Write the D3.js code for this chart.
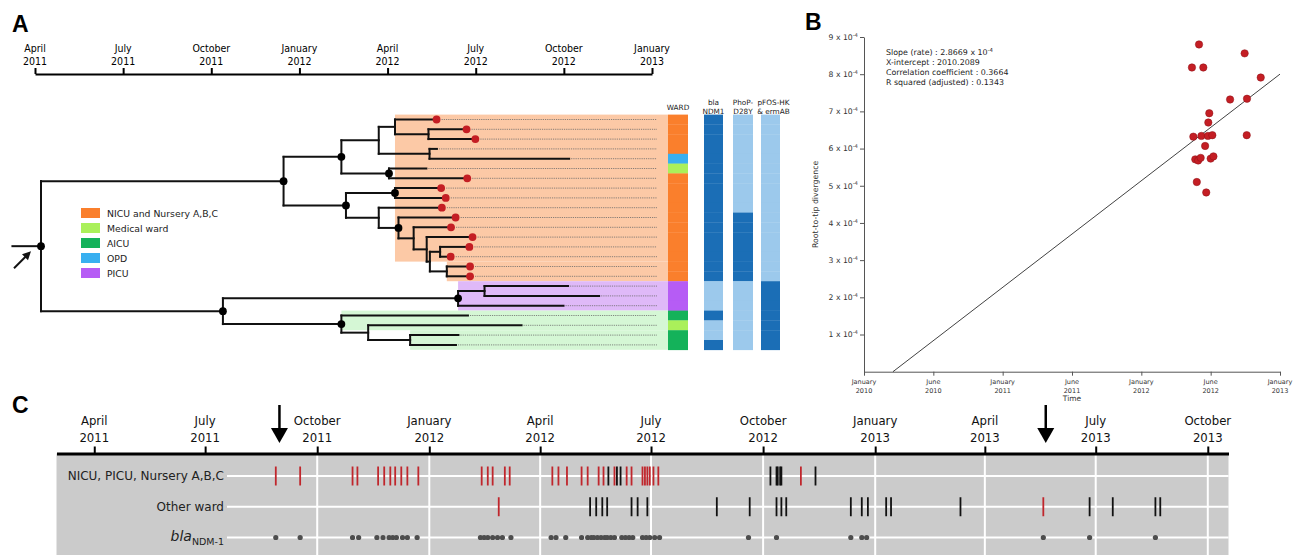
<!DOCTYPE html>
<html><head><meta charset="utf-8">
<script src="https://cdnjs.cloudflare.com/ajax/libs/d3/7.8.5/d3.min.js"></script>
<style>
body{margin:0;background:#fff;}
svg{display:block;font-family:"DejaVu Sans",sans-serif;}
.letter{font-family:"Liberation Sans",Arial,sans-serif;font-weight:bold;font-size:23px;}
.cond{font-family:"DejaVu Sans Condensed","DejaVu Sans",sans-serif;}
</style>
</head><body><svg id="c" width="1302" height="559"></svg>
<script>
// ---------------- DATA ----------------
// Panel A: time axis (decimal years)
const treeAxisTicks = [2011.25, 2011.5, 2011.75, 2012.0, 2012.25, 2012.5, 2012.75, 2013.0];
const treeAxisLabels = [["April","2011"],["July","2011"],["October","2011"],["January","2012"],["April","2012"],["July","2012"],["October","2012"],["January","2013"]];
// Tree topology and internal node dates (decimal years); dot = node marked with black circle
const treeNodes = [
  {id:"R",parent:"",t:2011.267,dot:1},
  {id:"A",parent:"R",t:2011.955,dot:1},
  {id:"A1",parent:"A",t:2012.119,dot:1},
  {id:"A1a",parent:"A1",t:2012.225},
  {id:"A1a1",parent:"A1a",t:2012.271},
  {id:"t0",parent:"A1a1"},
  {id:"N1",parent:"A1a1",t:2012.366},
  {id:"t1",parent:"N1"},{id:"t2",parent:"N1"},
  {id:"A1a2",parent:"A1a",t:2012.369},
  {id:"t3",parent:"A1a2"},{id:"t4",parent:"A1a2"},
  {id:"A1b",parent:"A1",t:2012.254,dot:1},
  {id:"t5",parent:"A1b"},{id:"t6",parent:"A1b"},
  {id:"A2",parent:"A",t:2012.132,dot:1},
  {id:"A2a",parent:"A2",t:2012.271,dot:1},
  {id:"t7",parent:"A2a"},{id:"t8",parent:"A2a"},
  {id:"A2b",parent:"A2",t:2012.225},
  {id:"t9",parent:"A2b"},
  {id:"N2",parent:"A2b",t:2012.281,dot:1},
  {id:"t10",parent:"N2"},
  {id:"N3",parent:"N2",t:2012.324},
  {id:"t11",parent:"N3"},
  {id:"N4",parent:"N3",t:2012.361},
  {id:"t12",parent:"N4"},
  {id:"N5",parent:"N4",t:2012.370},
  {id:"N6",parent:"N5",t:2012.399},
  {id:"t13",parent:"N6"},{id:"t14",parent:"N6"},
  {id:"N7",parent:"N5",t:2012.418},
  {id:"t15",parent:"N7"},{id:"t16",parent:"N7"},
  {id:"B",parent:"R",t:2011.783,dot:1},
  {id:"B1",parent:"B",t:2012.450,dot:1},
  {id:"N8",parent:"B1",t:2012.525},
  {id:"t17",parent:"N8"},{id:"t18",parent:"N8"},
  {id:"t19",parent:"B1"},
  {id:"B2",parent:"B",t:2012.119,dot:1},
  {id:"t20",parent:"B2"},
  {id:"N9",parent:"B2",t:2012.195},
  {id:"t21",parent:"N9"},
  {id:"N10",parent:"N9",t:2012.314},
  {id:"t22",parent:"N10"},{id:"t23",parent:"N10"}
];
const rootStemStart = 2011.186;
const tipTime = [2012.389,2012.474,2012.499,2012.390,2012.765,2012.360,2012.476,2012.402,2012.415,2012.404,2012.443,2012.430,2012.491,2012.482,2012.429,2012.484,2012.484,2012.762,2012.850,2012.749,2012.478,2012.630,2012.451,2012.444];
const tipRed  = [1,1,1,0,0,0,1,1,1,1,1,1,1,1,1,1,1,0,0,0,0,0,0,0];
const tipWard = ["NICU","NICU","NICU","NICU","OPD","Medical","NICU","NICU","NICU","NICU","NICU","NICU","NICU","NICU","NICU","NICU","NICU","PICU","PICU","PICU","AICU","Medical","AICU","AICU"];
const tipBla  = [1,1,1,1,1,1,1,1,1,1,1,1,1,1,1,1,1,0,0,0,1,0,0,1];
const tipPhoP = [0,0,0,0,0,0,0,0,0,0,1,1,1,1,1,1,1,0,0,0,0,0,0,0];
const tipPfos = [0,0,0,0,0,0,0,0,0,0,0,0,0,0,0,0,0,1,1,1,1,1,1,1];
const highlights = [
  {from:0,to:14,start:2012.271,color:"#fcc9a6"},
  {from:15,to:16,start:2012.418,color:"#fcc9a6"},
  {from:17,to:19,start:2012.450,color:"#dfb9f8"},
  {from:20,to:21,start:2012.119,color:"#d5f7d5"},
  {from:22,to:23,start:2012.314,color:"#d5f7d5"}
];
const wardKeys   = ["NICU","Medical","AICU","OPD","PICU"];
const wardNames  = ["NICU and Nursery A,B,C","Medical ward","AICU","OPD","PICU"];
const wardColors = ["#fa7f2c","#aaf05a","#14b25a","#38aff0","#b65cf5"];
const columnLabels = [["WARD"],["bla","NDM1"],["PhoP-","D28Y"],["pFOS-HK","& ermAB"]];

// Panel B: root-to-tip regression
const rttYear = [2012.416,2012.745,2012.365,2012.447,2012.861,2012.640,2012.762,2012.490,2012.483,2012.375,2012.433,2012.480,2012.512,2012.760,2012.460,2012.389,2012.410,2012.428,2012.500,2012.520,2012.400,2012.468];
const rttDiv  = [8.80,8.56,8.18,8.18,7.91,7.32,7.34,6.95,6.70,6.32,6.34,6.34,6.36,6.36,6.07,5.71,5.68,5.75,5.73,5.79,5.10,4.82].map(v=>v*1e-4);
const rttSlope = 2.8669e-4, rttXIntercept = 2010.2089;
const rttStats = ["Slope (rate) :  2.8669 x 10|-4","X-intercept : 2010.2089","Correlation coefficient : 0.3664","R squared (adjusted) : 0.1343"];
const bXTicks = [2010,2010.5,2011,2011.5,2012,2012.5,2013];
const bXLabels = [["January","2010"],["June","2010"],["January","2011"],["June","2011"],["January","2012"],["June","2012"],["January","2013"]];
const bYTicks = [1,2,3,4,5,6,7,8,9].map(v=>v*1e-4);

// Panel C: isolation timeline
const cRows = ["nicu","other","bla"];
const nicuRed = ["2011-08-28","2011-09-17","2011-10-30","2011-11-03","2011-11-20","2011-11-25","2011-11-30","2011-12-04","2011-12-09","2011-12-14","2011-12-23","2012-02-13","2012-02-18","2012-02-22","2012-03-03","2012-03-07","2012-04-11","2012-04-16","2012-04-23","2012-05-05","2012-05-10","2012-05-19","2012-05-23","2012-06-01","2012-06-11","2012-06-15","2012-06-24","2012-06-26","2012-06-28","2012-06-30","2012-07-03","2012-07-07","2012-11-01"];
const nicuBlack = ["2012-05-27","2012-06-03","2012-06-06","2012-10-07","2012-10-12","2012-10-13","2012-10-15","2012-10-16","2012-11-13"];
const otherRed = ["2012-02-27","2013-05-19"];
const otherBlack = ["2012-05-12","2012-05-17","2012-05-22","2012-05-26","2012-06-15","2012-06-20","2012-06-28","2012-08-24","2012-09-20","2012-10-12","2012-10-16","2012-10-20","2012-12-12","2012-12-21","2012-12-26","2013-01-10","2013-01-14","2013-03-12","2013-06-26","2013-07-15","2013-08-19","2013-08-23"];
const blaDates = ["2011-08-28","2011-09-17","2011-10-30","2011-11-04","2011-11-19","2011-11-24","2011-11-29","2011-12-02","2011-12-05","2011-12-10","2011-12-14","2011-12-22","2012-02-12","2012-02-15","2012-02-18","2012-02-22","2012-02-26","2012-03-01","2012-03-08","2012-04-10","2012-04-14","2012-04-22","2012-05-05","2012-05-10","2012-05-13","2012-05-15","2012-05-18","2012-05-21","2012-05-24","2012-05-26","2012-05-29","2012-06-01","2012-06-07","2012-06-10","2012-06-13","2012-06-16","2012-06-24","2012-06-27","2012-06-30","2012-07-04","2012-07-08","2012-09-19","2012-10-12","2012-12-12","2012-12-21","2012-12-25","2013-05-19","2013-06-26","2013-08-19"];
const arrowDates = ["2011-08-31","2013-05-21"];
const cDomain = ["2011-03-01","2013-10-18"];

// ---------------- DRAW ----------------
const svg = d3.select("#c");
const parse = d3.utcParse("%Y-%m-%d");

// ===== Panel A =====
const xA = d3.scaleLinear().domain([2011.25, 2013]).range([35, 652]);
const yA = d3.scaleLinear().domain([0, 23]).range([119.5, 344.9]);
const rowH = yA(1) - yA(0);
const gA = svg.append("g");
gA.append("text").attr("class","letter").attr("x",12).attr("y",32).text("A");

const axAg = gA.append("g").attr("transform","translate(0,74)")
  .call(d3.axisTop(xA).tickValues(treeAxisTicks).tickSize(6).tickSizeOuter(0).tickFormat(""));
axAg.select(".domain").attr("stroke","#000").attr("stroke-width",2);
axAg.selectAll(".tick line").attr("stroke","#000").attr("stroke-width",2);
const axALab = gA.append("g").attr("class","cond").attr("font-size",10.5).attr("text-anchor","middle");
treeAxisTicks.forEach((t,i)=>{
  axALab.append("text").attr("x",xA(t)).attr("y",52).text(treeAxisLabels[i][0]);
  axALab.append("text").attr("x",xA(t)).attr("y",65).text(treeAxisLabels[i][1]);
});

// highlights
const colX0 = 668;
gA.selectAll("rect.hl").data(highlights).join("rect")
  .attr("x",d=>xA(d.start)).attr("width",d=>colX0-xA(d.start))
  .attr("y",d=>yA(d.from)-rowH/2).attr("height",d=>(d.to-d.from+1)*rowH)
  .attr("fill",d=>d.color);

// tree
const root = d3.stratify().id(d=>d.id).parentId(d=>d.parent||null)(treeNodes);
root.each(n=>{ if(!n.children){ const k=+n.id.slice(1); n.k=k; n.t=tipTime[k]; n.y=yA(k);} else n.t=n.data.t; });
root.eachAfter(n=>{ if(n.children){ n.y=(n.children[0].y+n.children[n.children.length-1].y)/2; }});

// dotted leader lines
const tips = root.leaves();
gA.selectAll("line.lead").data(tips).join("line")
  .attr("x1",d=>xA(d.t)+(tipRed[d.k]?5:2)).attr("x2",657)
  .attr("y1",d=>d.y).attr("y2",d=>d.y)
  .attr("stroke","#6a6a6a").attr("stroke-width",0.8).attr("stroke-dasharray","1.2,1");

const br = gA.append("g").attr("fill","none").attr("stroke","#111").attr("stroke-width",2).attr("stroke-linecap","square");
root.descendants().forEach(n=>{
  if(n.parent) br.append("path").attr("d",`M${xA(n.parent.t)},${n.y}H${xA(n.t)}`);
  if(n.children) br.append("path").attr("d",`M${xA(n.t)},${n.children[0].y}V${n.children[n.children.length-1].y}`);
});
br.append("path").attr("d",`M${xA(rootStemStart)},${root.y}H${xA(root.t)}`);
// arrow pointing at root
const ax0 = xA(root.t);
gA.append("line").attr("x1",ax0-27).attr("y1",root.y+22).attr("x2",ax0-15).attr("y2",root.y+10)
  .attr("stroke","#111").attr("stroke-width",2);
gA.append("path").attr("d",`M${ax0-10},${root.y+5}L${ax0-19},${root.y+8}L${ax0-13},${root.y+14}Z`).attr("fill","#111");

gA.selectAll("circle.nd").data(root.descendants().filter(n=>n.data.dot)).join("circle")
  .attr("cx",d=>xA(d.t)).attr("cy",d=>d.y).attr("r",3.9).attr("fill","#000");
gA.selectAll("circle.rd").data(tips.filter(d=>tipRed[d.k])).join("circle")
  .attr("cx",d=>xA(d.t)).attr("cy",d=>d.y).attr("r",3.9).attr("fill","#c41e24");

// columns
const wardColor = d3.scaleOrdinal().domain(wardKeys).range(wardColors);
const blue = ["#9cc9ec","#1b6eb6"];
const cols = [
  {x:668,w:20,col:i=>wardColor(tipWard[i])},
  {x:704,w:19,col:i=>blue[tipBla[i]]},
  {x:733,w:20,col:i=>blue[tipPhoP[i]]},
  {x:761,w:19,col:i=>blue[tipPfos[i]]}
];
cols.forEach((c,ci)=>{
  gA.selectAll(null).data(d3.range(24)).join("rect")
    .attr("x",c.x).attr("width",c.w).attr("y",i=>yA(i)-rowH/2).attr("height",rowH+0.3)
    .attr("fill",i=>c.col(i));
  const lab = columnLabels[ci];
  const tx = gA.append("text").attr("font-size",7.3).attr("text-anchor","middle").attr("fill","#222");
  if(lab.length===1) tx.append("tspan").attr("x",c.x+c.w/2).attr("y",109.5).text(lab[0]);
  else { tx.append("tspan").attr("x",c.x+c.w/2+(ci===3?3:0)).attr("y",105).text(lab[0]);
         tx.append("tspan").attr("x",c.x+c.w/2+(ci===3?3:0)).attr("y",113.8).text(lab[1]); }
});

// legend
const lg = gA.append("g").attr("transform","translate(81,208)");
wardKeys.forEach((k,i)=>{
  lg.append("rect").attr("x",0).attr("y",i*15).attr("width",19).attr("height",10).attr("fill",wardColors[i]);
  lg.append("text").attr("x",26).attr("y",i*15+8.6).attr("font-size",9.3).attr("fill","#222").text(wardNames[i]);
});

// ===== Panel B =====
const bX = d3.scaleLinear().domain([2010,2013]).range([864,1280]);
const bY = d3.scaleLinear().domain([0,9e-4]).range([371.7,37]);
const gB = svg.append("g");
gB.append("text").attr("class","letter").attr("x",805).attr("y",30).text("B");
const byAx = gB.append("g").attr("transform","translate(864,0)")
  .call(d3.axisLeft(bY).tickValues(bYTicks).tickSize(4).tickSizeOuter(0).tickFormat(""));
const bxAx = gB.append("g").attr("transform","translate(0,371.7)")
  .call(d3.axisBottom(bX).tickValues(bXTicks).tickSize(4).tickSizeOuter(0).tickFormat(""));
[byAx,bxAx].forEach(a=>{a.selectAll("path,line").attr("stroke","#555").attr("stroke-width",1);});
bYTicks.forEach(v=>{
  const t = gB.append("text").attr("x",858).attr("y",bY(v)+2.8).attr("text-anchor","end").attr("font-size",7.7).attr("fill","#333");
  t.append("tspan").text(`${Math.round(v*1e4)} x 10`);
  t.append("tspan").attr("font-size",5.3).attr("dy",-3.2).text("-4");
});
bXTicks.forEach((v,i)=>{
  const x=bX(v);
  gB.append("text").attr("x",x).attr("y",384).attr("text-anchor","middle").attr("font-size",6.5).attr("fill","#333").text(bXLabels[i][0]);
  gB.append("text").attr("x",x).attr("y",393).attr("text-anchor","middle").attr("font-size",6.5).attr("fill","#333").text(bXLabels[i][1]);
});
gB.append("text").attr("x",bX(2011.5)).attr("y",401).attr("text-anchor","middle").attr("font-size",7.5).attr("fill","#333").text("Time");
gB.append("text").attr("transform",`translate(818,${(bY(0)+bY(9e-4))/2}) rotate(-90)`).attr("text-anchor","middle").attr("font-size",7.8).attr("fill","#333").text("Root-to-tip divergence");
rttStats.forEach((s,i)=>{
  const [main,sup] = s.split("|");
  const t = gB.append("text").attr("x",886).attr("y",55.3+i*9.9).attr("font-size",7.9).attr("fill","#222");
  t.append("tspan").text(main);
  if(sup) t.append("tspan").attr("font-size",5.4).attr("dy",-3.2).text(sup);
});
gB.append("line").attr("x1",bX(rttXIntercept)).attr("y1",bY(0))
  .attr("x2",bX(2013)).attr("y2",bY(rttSlope*(2013-rttXIntercept)))
  .attr("stroke","#111").attr("stroke-width",0.8);
gB.selectAll("circle.p").data(rttYear).join("circle")
  .attr("cx",d=>bX(d)).attr("cy",(d,i)=>bY(rttDiv[i])).attr("r",3.7)
  .attr("fill","#c41e24").attr("stroke","#8c1116").attr("stroke-width",0.5);

// ===== Panel C =====
const cX = d3.scaleUtc().domain(cDomain.map(parse)).range([56.5,1228.5]);
const yC = d3.scalePoint().domain(cRows).range([476,537.5]);
const gC = svg.append("g");
gC.append("text").attr("class","letter").attr("x",12).attr("y",413).text("C");
const bandTop = 453.5, bandBot = 555;
gC.append("rect").attr("x",cX.range()[0]).attr("y",bandTop).attr("width",cX.range()[1]-cX.range()[0]).attr("height",bandBot-bandTop).attr("fill","#cbcbcb");
const cTicks = cX.ticks(d3.utcMonth.every(3));
const gridX0 = 227;
gC.selectAll("line.vg").data(cTicks.filter(d=>cX(d)>gridX0)).join("line")
  .attr("x1",d=>cX(d)).attr("x2",d=>cX(d)).attr("y1",bandTop).attr("y2",bandBot)
  .attr("stroke","#fff").attr("stroke-width",2);
gC.selectAll("line.hg").data(cRows).join("line")
  .attr("x1",gridX0).attr("x2",cX.range()[1]).attr("y1",d=>yC(d)).attr("y2",d=>yC(d))
  .attr("stroke","#fff").attr("stroke-width",2);
const axC = gC.append("g").attr("transform",`translate(0,${bandTop})`)
  .call(d3.axisTop(cX).tickValues(cTicks).tickSize(7).tickSizeOuter(0).tickFormat(""));
axC.select(".domain").attr("stroke","#000").attr("stroke-width",3);
axC.selectAll(".tick line").attr("stroke","#000").attr("stroke-width",2);
const fm = d3.utcFormat("%B"), fy = d3.utcFormat("%Y");
const cLab = gC.append("g").attr("class","cond").attr("font-size",13).attr("text-anchor","middle").attr("fill","#111");
cTicks.forEach(d=>{
  cLab.append("text").attr("x",cX(d)).attr("y",425).text(fm(d));
  cLab.append("text").attr("x",cX(d)).attr("y",441.5).text(fy(d));
});
// arrows
arrowDates.forEach(s=>{
  const x=cX(parse(s));
  gC.append("line").attr("x1",x).attr("x2",x).attr("y1",405).attr("y2",432).attr("stroke","#000").attr("stroke-width",2.5);
  gC.append("path").attr("d",`M${x-8.5},428L${x+8.5},428L${x},443Z`).attr("fill","#000");
});
// row labels
const rl = gC.append("g").attr("text-anchor","end").attr("fill","#222");
rl.append("text").attr("x",224).attr("y",yC("nicu")+4.3).attr("font-size",12).text("NICU, PICU, Nursery A,B,C");
rl.append("text").attr("x",224).attr("y",yC("other")+4.3).attr("font-size",12).text("Other ward");
const bl = rl.append("text").attr("x",224).attr("y",yC("bla")+3);
bl.append("tspan").attr("font-style","italic").attr("font-size",14).text("bla");
bl.append("tspan").attr("font-size",9.5).attr("dy",4).text("NDM-1");
// event ticks
function ticks(dates,row,color){
  gC.selectAll(null).data(dates).join("line")
    .attr("x1",d=>cX(parse(d))).attr("x2",d=>cX(parse(d)))
    .attr("y1",yC(row)-9.5).attr("y2",yC(row)+9.5)
    .attr("stroke",color).attr("stroke-width",1.8);
}
ticks(nicuBlack,"nicu","#111");
ticks(nicuRed,"nicu","#c0262c");
ticks(otherBlack,"other","#111");
ticks(otherRed,"other","#c0262c");
gC.selectAll("circle.bd").data(blaDates).join("circle")
  .attr("cx",d=>cX(parse(d))).attr("cy",yC("bla")).attr("r",2.6).attr("fill","#4d4d4d");
</script>
</body></html>
